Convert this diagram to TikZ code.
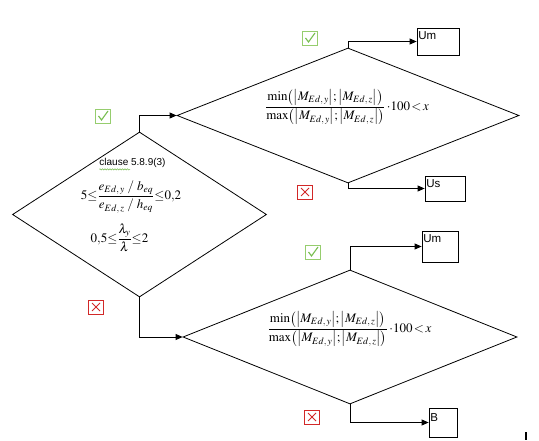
\documentclass[tikz,border=0pt]{standalone}
\usepackage{amsmath}
\usepackage{mathptmx}
\usepackage{fontspec}
\setmainfont{Liberation Serif}
\newfontfamily\lsans{Liberation Sans}
\usetikzlibrary{shapes.geometric,arrows.meta,decorations.pathmorphing}
\definecolor{okgreen}{RGB}{120,190,80}
\definecolor{okborder}{RGB}{150,205,110}
\definecolor{nored}{RGB}{210,40,40}
\newcommand{\sbs}[2]{_{\scriptstyle #1,\,#2}}
\newcommand{\absM}[1]{\bigl|M\sbs{Ed}{#1}\bigr|}
\tikzset{
  dia/.style={shape=diamond,draw,line width=0.8pt,inner sep=0pt},
  outbox/.style={draw,line width=0.8pt,inner sep=0pt},
  boxtxt/.style={anchor=north west,inner sep=0pt,font=\lsans\fontsize{11.5}{13}\selectfont},
  arr/.style={line width=0.8pt,-{Triangle[length=7pt,width=6pt]}},
  frm/.style={inner sep=0pt,font=\fontsize{13}{15}\selectfont},
  okbox/.style={draw=okborder,line width=0.8pt,minimum width=15pt,minimum height=14pt,inner sep=0pt,
    path picture={\draw[okgreen,line width=1.1pt]
      ([xshift=-4.5pt,yshift=0pt]path picture bounding box.center) --
      ([xshift=-1.5pt,yshift=-4pt]path picture bounding box.center) --
      ([xshift=5pt,yshift=5pt]path picture bounding box.center);}},
  nobox/.style={draw=nored,line width=0.8pt,minimum width=15pt,minimum height=14pt,inner sep=0pt,
    path picture={\draw[nored,line width=1pt]
      ([xshift=-4pt,yshift=-4pt]path picture bounding box.center) --
      ([xshift=4pt,yshift=4pt]path picture bounding box.center)
      ([xshift=-4pt,yshift=4pt]path picture bounding box.center) --
      ([xshift=4pt,yshift=-4pt]path picture bounding box.center);}},
}
\begin{document}
\begin{tikzpicture}[x=1pt,y=-1pt]
\useasboundingbox[fill=white] (0,0) rectangle (539,441);
% diamonds
\node[dia,minimum width=254pt,minimum height=165pt] (L) at (139.5,214.5) {};
\node[dia,minimum width=342pt,minimum height=135pt] (U) at (348,115.5) {};
\node[dia,minimum width=334pt,minimum height=134pt] (D) at (350,337) {};
% result boxes
\node[outbox,minimum width=42pt,minimum height=27pt] (Um1) at (438,41.5) {};
\node[outbox,minimum width=40pt,minimum height=25pt] (Us) at (445,188.5) {};
\node[outbox,minimum width=36pt,minimum height=31pt] (Um2) at (440,246.5) {};
\node[outbox,minimum width=28pt,minimum height=29pt] (B) at (443,422.5) {};
\node[boxtxt] (tUm1) at ([xshift=1.5pt,yshift=-4pt]Um1.north west) {Um};
\node[boxtxt] (tUs) at ([xshift=1.5pt,yshift=-4pt]Us.north west) {Us};
\node[boxtxt] (tUm2) at ([xshift=1.5pt,yshift=-4pt]Um2.north west) {Um};
\node[boxtxt] (tB) at ([xshift=1.5pt,yshift=-6pt]B.north west) {B};
% texts
\node[inner sep=0pt,font=\lsans\fontsize{10}{12}\selectfont] (cl) at (132.5,163) {clause 5.8.9(3)};
\draw[okgreen,line width=0.5pt,decorate,decoration={snake,amplitude=0.7pt,segment length=2.5pt}]
  ([yshift=-1.5pt]cl.south west) -- ++(31,0);
\node[frm] (f1) at (131,197) {$5{\le}\dfrac{e\sbs{Ed}{y}\;/\;b_{eq}}{e\sbs{Ed}{z}\;/\;h_{eq}}{\le}0{,}2$};
\node[frm] (f2) at (119.5,238) {$0{,}5{\le}\dfrac{\lambda_y}{\lambda}{\le}2$};
\node[frm] (fU) at (347,107) {$\dfrac{\min\bigl(\absM{y};\absM{z}\bigr)}{\max\bigl(\absM{y};\absM{z}\bigr)}\,{\cdot}100\,{<}\,x$};
\node[frm] (fD) at (349.5,329) {$\dfrac{\min\bigl(\absM{y};\absM{z}\bigr)}{\max\bigl(\absM{y};\absM{z}\bigr)}\,{\cdot}100\,{<}\,x$};
% connectors
\draw[arr] (L.north) |- (U.west);
\draw[arr] (L.south) |- (D.west);
\draw[arr] (U.north) |- (Um1.west);
\draw[arr] (U.south) |- (Us.west);
\draw[arr] (D.north) |- (Um2.west);
\draw[arr] (D.south) |- (B.west);
% marks
\node[okbox] (ok1) at (103,116) {};
\node[nobox] (no1) at (96,307) {};
\node[okbox] (ok2) at (310,38) {};
\node[nobox] (no2) at (305,192) {};
\node[okbox] (ok3) at (313,252) {};
\node[nobox] (no3) at (312,417) {};
% cursor mark
\coordinate (c1) at (526,432);
\coordinate (c2) at (526,440);
\draw[line width=1.5pt] (c1) -- (c2);
\end{tikzpicture}
\end{document}
